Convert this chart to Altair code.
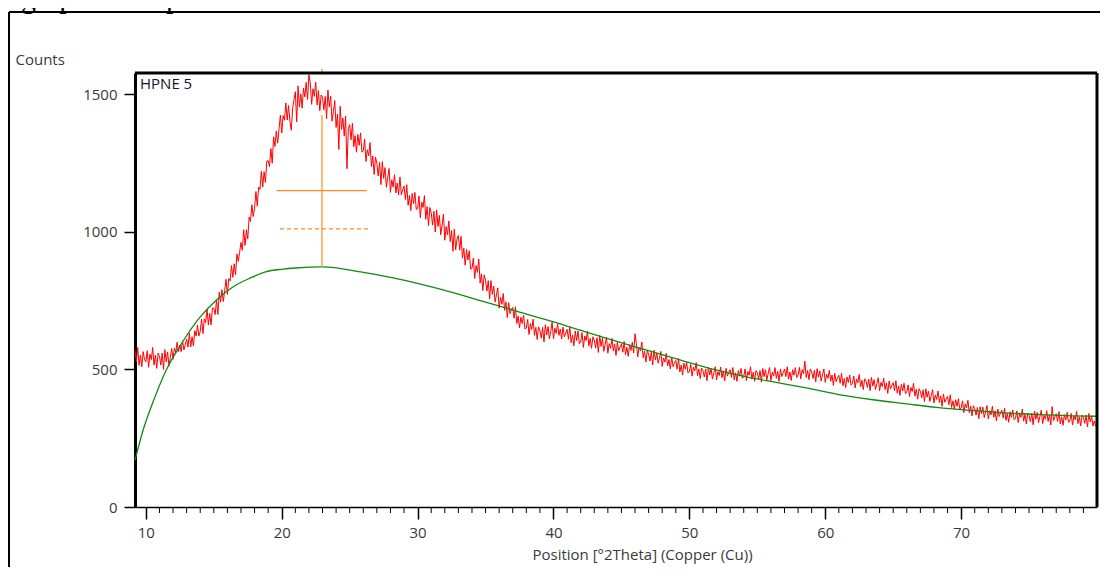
import altair as alt
import numpy as np
import pandas as pd

# ---------------- data ----------------
scan_start = 9.2
scan_step = 0.1
red_counts = [
    570, 528, 580, 515, 552, 510, 565, 537,                            # 9.2-9.9
    528, 568, 508, 556, 536, 580, 516, 552, 504, 560,                  # 10
    548, 516, 560, 500, 572, 528, 564, 512, 544, 576,                  # 11
    537, 578, 562, 599, 565, 589, 565, 604, 571, 590,                  # 12
    611, 581, 632, 582, 619, 586, 641, 622, 662, 622,                  # 13
    638, 684, 630, 684, 670, 720, 662, 704, 662, 724,                  # 14
    723, 700, 752, 700, 781, 745, 790, 747, 787, 828,                  # 15
    773, 830, 822, 878, 835, 884, 844, 920, 893, 925,                  # 16
    962, 933, 1008, 951, 1008, 975, 1054, 1038, 1099, 1056,            # 17
    1086, 1147, 1094, 1163, 1155, 1220, 1163, 1219, 1180, 1258,        # 18
    1259, 1238, 1303, 1250, 1346, 1311, 1367, 1323, 1375, 1425,        # 19
    1360, 1423, 1406, 1469, 1407, 1460, 1403, 1370, 1449, 1482,        # 20
    1510, 1400, 1531, 1454, 1502, 1450, 1523, 1491, 1544, 1482,        # 21
    1572, 1542, 1464, 1521, 1493, 1545, 1462, 1514, 1441, 1498,        # 22
    1490, 1444, 1493, 1412, 1516, 1455, 1494, 1403, 1437, 1478,        # 23
    1380, 1429, 1300, 1457, 1373, 1415, 1349, 1422, 1230, 1376,        # 24
    1390, 1335, 1395, 1310, 1350, 1290, 1355, 1315, 1360, 1290,        # 25
    1295, 1338, 1256, 1299, 1277, 1325, 1238, 1276, 1209, 1272,        # 26
    1250, 1204, 1253, 1172, 1256, 1195, 1234, 1163, 1197, 1231,        # 27
    1144, 1190, 1163, 1208, 1142, 1178, 1135, 1200, 1135, 1153,        # 28
    1167, 1118, 1172, 1097, 1133, 1078, 1140, 1103, 1144, 1082,        # 29
    1085, 1131, 1052, 1108, 1089, 1132, 1046, 1092, 1023, 1089,        # 30
    1070, 1025, 1075, 1000, 1080, 1020, 1060, 990, 1025, 1065,         # 31
    970, 1020, 990, 1040, 965, 1005, 930, 1010, 935, 975,              # 32
    987, 934, 984, 905, 941, 879, 936, 898, 932, 865,                  # 33
    867, 905, 831, 878, 853, 902, 814, 848, 787, 844,                  # 34
    823, 785, 823, 757, 823, 773, 803, 745, 771, 797,                  # 35
    723, 762, 737, 776, 715, 746, 689, 743, 703, 718,                  # 36
    726, 686, 728, 667, 694, 651, 690, 667, 697, 647,                  # 37
    650, 682, 627, 667, 646, 683, 624, 653, 609, 655,                  # 38
    642, 614, 653, 600, 663, 625, 656, 611, 639, 672,                  # 39
    612, 650, 631, 666, 624, 647, 611, 654, 618, 633,                  # 40
    646, 610, 655, 597, 625, 586, 640, 605, 640, 594,                  # 41
    600, 634, 580, 622, 605, 640, 585, 613, 577, 619,                  # 42
    607, 578, 615, 562, 624, 584, 614, 566, 591, 618,                  # 43
    559, 594, 577, 613, 567, 593, 551, 599, 568, 582,                  # 44
    593, 563, 602, 554, 581, 548, 590, 569, 599, 560,                  # 45
    630, 594, 546, 580, 568, 600, 543, 567, 527, 569,                  # 46
    556, 531, 563, 516, 570, 535, 560, 523, 542, 566,                  # 47
    511, 542, 527, 559, 513, 536, 502, 545, 510, 523,                  # 48
    533, 501, 540, 491, 516, 480, 523, 501, 526, 487,                  # 49
    492, 519, 476, 509, 495, 525, 477, 502, 467, 505,                  # 50
    496, 473, 502, 459, 509, 480, 503, 465, 488, 510,                  # 51
    462, 492, 478, 509, 470, 495, 459, 504, 476, 490,                  # 52
    499, 471, 507, 462, 488, 457, 496, 476, 504, 468,                  # 53
    474, 502, 460, 493, 479, 510, 465, 490, 457, 496,                  # 54
    488, 465, 496, 454, 504, 474, 499, 462, 485, 507,                  # 55
    460, 490, 476, 507, 468, 493, 457, 502, 474, 488,                  # 56
    502, 474, 510, 465, 491, 460, 499, 479, 507, 471,                  # 57
    480, 508, 466, 499, 485, 530, 471, 496, 463, 502,                  # 58
    491, 467, 497, 455, 503, 472, 495, 458, 480, 502,                  # 59
    453, 482, 468, 497, 457, 480, 442, 486, 456, 470,                  # 60
    479, 450, 486, 441, 467, 434, 473, 453, 480, 443,                  # 61
    449, 476, 433, 466, 452, 482, 437, 461, 427, 466,                  # 62
    458, 435, 465, 423, 471, 440, 463, 427, 449, 470,                  # 63
    423, 453, 438, 469, 427, 451, 413, 458, 429, 442,                  # 64
    452, 423, 459, 414, 440, 406, 446, 422, 450, 412,                  # 65
    417, 444, 402, 435, 420, 450, 403, 428, 392, 430,                  # 66
    421, 397, 426, 383, 430, 399, 421, 384, 405, 427,                  # 67
    378, 407, 391, 422, 380, 404, 366, 411, 381, 393,                  # 68
    402, 372, 408, 362, 386, 356, 390, 366, 394, 356,                  # 69
    360, 386, 343, 375, 360, 388, 343, 367, 331, 368,                  # 70
    358, 334, 362, 321, 365, 339, 363, 325, 346, 369,                  # 71
    320, 350, 335, 366, 326, 350, 313, 356, 329, 342,                  # 72
    352, 323, 359, 315, 340, 308, 346, 326, 353, 317,                  # 73
    322, 349, 307, 340, 326, 356, 312, 337, 302, 341,                  # 74
    333, 310, 341, 299, 349, 319, 344, 307, 330, 352,                  # 75
    303, 333, 319, 350, 311, 335, 298, 365, 314, 328,                  # 76
    339, 311, 347, 302, 328, 297, 336, 316, 344, 308,                  # 77
    312, 340, 298, 331, 317, 348, 303, 328, 295, 334,                  # 78
    327, 304, 334, 291, 340, 310, 332, 294, 313, 295,                  # 79
    290,                                                               # 80.0
]

green_pos = [9.2, 9.8, 10.5, 11.5, 12.7, 14.0, 15.2, 16.4, 17.7, 18.8, 20.1, 21.0,
             23.0, 25.8, 28.2, 31.6, 35.0, 37.5, 40.0, 42.4, 44.6, 46.8, 49.3,
             51.8, 54.2, 56.4, 58.6, 61.1, 63.5, 66.0, 68.2, 70.4, 72.9, 75.3,
             77.8, 80.0]
green_counts = [170, 280, 378, 498, 600, 691, 753, 800, 833, 855, 865, 869,
                873, 855, 833, 793, 745, 709, 673, 636, 603, 571, 535,
                500, 473, 453, 433, 408, 390, 375, 362, 352, 343, 337,
                332, 330]

x_major = [10, 20, 30, 40, 50, 60, 70]
x_minor = [v for v in range(11, 80) if v % 10 != 0]
y_ticks = [0, 500, 1000, 1500]

peak_pos = 22.96
peak_base = 873
peak_top = 1425
solid_bar = {"pos": 19.63, "pos2": 26.27, "counts": 1150}
dash_bar = {"pos": 19.87, "pos2": 26.4, "counts": 1011}

sample_label = "HPNE 5"
caption = "X-ray diffractograph of H. perforatum nanoemulsion"

# ---------------- geometry / style ----------------
W, H = 962, 434
FONT = "Open Sans"
TXT = "#3a3a3a"

pos = np.round(scan_start + scan_step * np.arange(len(red_counts)), 2)
red_df = pd.DataFrame({"pos": pos, "counts": red_counts})
green_df = pd.DataFrame({"pos": green_pos, "counts": green_counts})
one = pd.DataFrame({"a": [0]})

xscale = alt.Scale(domain=[9.2, 80.0], nice=False, zero=False)
yscale = alt.Scale(domain=[0, 1578], nice=False, zero=True)

xaxis = alt.Axis(values=x_major, format="d", title="Position [°2Theta] (Copper (Cu))",
                 grid=False, tickSize=12, tickWidth=1.5, tickColor="black",
                 domainColor="black", domainWidth=1.5,
                 labelFont=FONT, labelFontSize=15, labelColor=TXT, labelPadding=6,
                 labelFlush=False,
                 titleFont=FONT, titleFontSize=15, titleFontWeight="normal",
                 titleColor=TXT, titleX=507, titleY=52, titleAlign="center",
                 titleBaseline="alphabetic")
yaxis = alt.Axis(values=y_ticks, format="d", title="Counts", grid=False,
                 tickSize=11, tickWidth=1.5, tickColor="black",
                 domainColor="black", domainWidth=3,
                 labelFont=FONT, labelFontSize=15, labelColor=TXT, labelPadding=7,
                 titleFont=FONT, titleFontSize=15, titleFontWeight="normal",
                 titleColor=TXT, titleAngle=0, titleAlign="left",
                 titleBaseline="alphabetic", titleX=-120, titleY=-9)

X = alt.X("pos:Q", scale=xscale, axis=xaxis)
Y = alt.Y("counts:Q", scale=yscale, axis=yaxis)

red = alt.Chart(red_df).mark_line(color="#FF0000", strokeWidth=1).encode(x=X, y=Y)

green = alt.Chart(green_df).mark_line(color="#118A11", strokeWidth=1.3,
                                      interpolate="monotone").encode(x=X, y=Y)

peak_df = pd.DataFrame({"pos": [peak_pos], "counts": [peak_base], "top": [peak_top]})
vline = alt.Chart(peak_df).mark_rule(color="#FF8C1A", strokeWidth=1.2).encode(
    x=X, y=Y, y2="top:Q")
toptick = alt.Chart(peak_df).mark_rule(color="#FF8C1A", strokeWidth=1.2).encode(
    x=X, y=alt.value(-4), y2=alt.value(0))
hsolid = alt.Chart(pd.DataFrame([solid_bar])).mark_rule(
    color="#FF8C1A", strokeWidth=1.2).encode(x=X, x2="pos2:Q", y=Y)
hdash = alt.Chart(pd.DataFrame([dash_bar])).mark_rule(
    color="#FF8C1A", strokeWidth=1.2, strokeDash=[4, 3]).encode(x=X, x2="pos2:Q", y=Y)

minor = alt.Chart(pd.DataFrame({"pos": x_minor})).mark_rule(
    color="black", strokeWidth=1).encode(x=X, y=alt.value(H), y2=alt.value(H + 6))

frame_top = alt.Chart(one).mark_rule(color="black", strokeWidth=3).encode(
    x=alt.value(0), x2=alt.value(W), y=alt.value(0))
frame_right = alt.Chart(one).mark_rule(color="black", strokeWidth=3).encode(
    x=alt.value(W), y=alt.value(0), y2=alt.value(H))

outer_left = alt.Chart(one).mark_rule(color="black", strokeWidth=2).encode(
    x=alt.value(-126), y=alt.value(-61), y2=alt.value(H + 80))
outer_top = alt.Chart(one).mark_rule(color="black", strokeWidth=2).encode(
    x=alt.value(-126), x2=alt.value(W + 20), y=alt.value(-61))

label = alt.Chart(pd.DataFrame({"t": [sample_label]})).mark_text(
    align="left", baseline="alphabetic", font=FONT, fontSize=15,
    color="#14142a").encode(x=alt.value(5), y=alt.value(16), text="t:N")

cap = alt.Chart(pd.DataFrame({"t": [caption]})).mark_text(
    align="right", baseline="alphabetic", font="Liberation Serif", fontSize=30,
    color="black").encode(x=alt.value(340), y=alt.value(-65), text="t:N")

chart = alt.layer(
    red, green, vline, toptick, hsolid, hdash, minor, frame_top, frame_right,
    outer_left, outer_top, label, cap
).properties(
    width=W, height=H,
    padding={"left": 127, "top": 65, "right": 3, "bottom": 60},
    autosize=alt.AutoSizeParams(type="none"),
    background="white",
).configure_view(stroke=None)

chart.save("out.html", embed_options={"renderer": "svg", "actions": False})
